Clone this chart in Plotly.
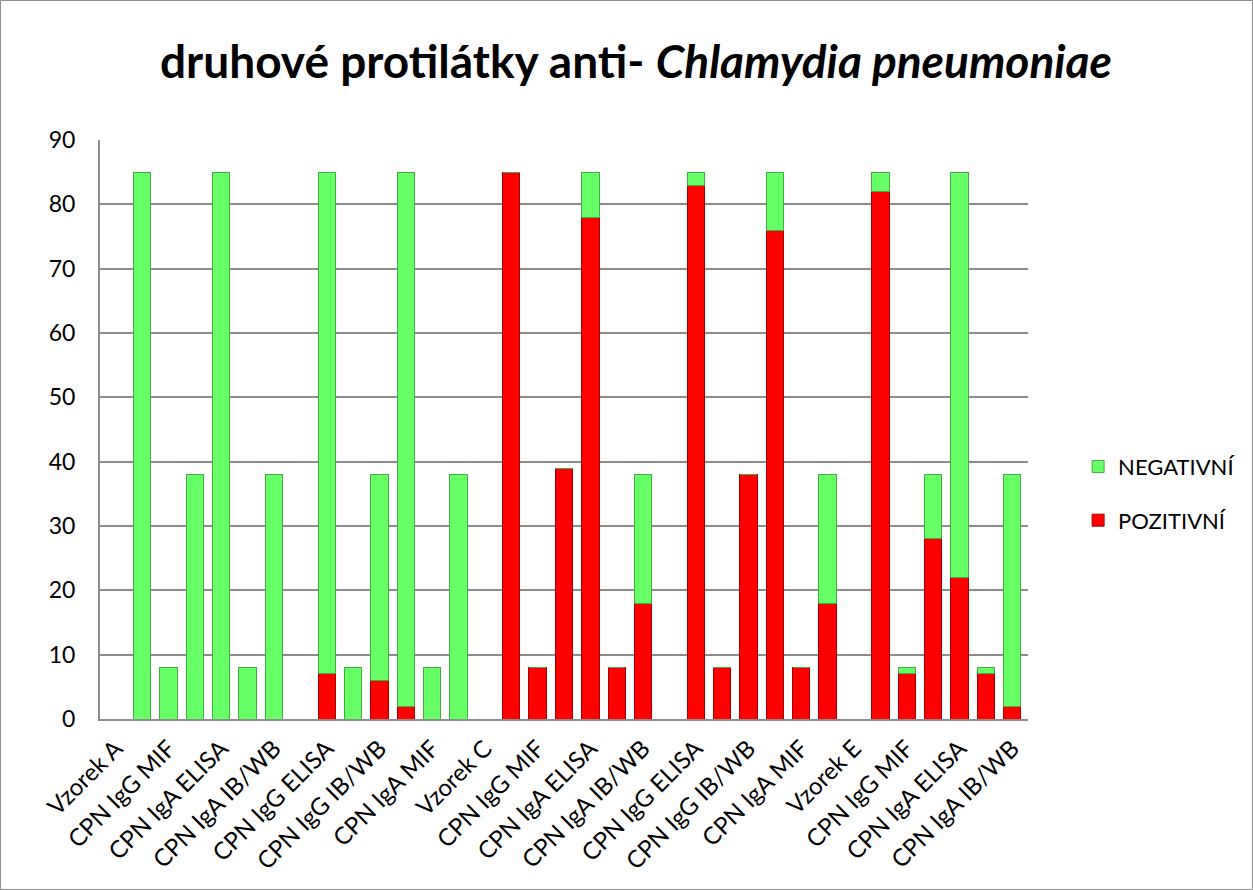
import plotly.graph_objects as go

groups = ["Vzorek A", "Vzorek B", "Vzorek C", "Vzorek D", "Vzorek E"]
tests = ["CPN IgG ELISA", "CPN IgG MIF", "CPN IgG IB/WB",
         "CPN IgA ELISA", "CPN IgA MIF", "CPN IgA IB/WB"]

# values per group, in the order of `tests`
pozitivni = {
    "Vzorek A": [0, 0, 0, 0, 0, 0],
    "Vzorek B": [7, 0, 6, 2, 0, 0],
    "Vzorek C": [85, 8, 39, 78, 8, 18],
    "Vzorek D": [83, 8, 38, 76, 8, 18],
    "Vzorek E": [82, 7, 28, 22, 7, 2],
}
negativni = {
    "Vzorek A": [85, 8, 38, 85, 8, 38],
    "Vzorek B": [78, 8, 32, 83, 8, 38],
    "Vzorek C": [0, 0, 0, 7, 0, 20],
    "Vzorek D": [2, 0, 0, 9, 0, 20],
    "Vzorek E": [3, 1, 10, 63, 1, 36],
}

categories = []
pos_vals = []
neg_vals = []
for g in groups:
    categories.append(g)
    pos_vals.append(None)
    neg_vals.append(None)
    for i, t in enumerate(tests):
        categories.append(t)
        pos_vals.append(pozitivni[g][i])
        neg_vals.append(negativni[g][i])

x = list(range(len(categories)))
tickvals = x[::2]
ticktext = categories[::2]

font = "Lato, 'Open Sans', sans-serif"

fig = go.Figure()
fig.add_trace(go.Bar(x=x, y=pos_vals, name="POZITIVNÍ", legendgroup="p", legendrank=2,
                     marker=dict(color="#ff0000", line=dict(color="#a00000", width=1)),
                     width=0.66))
fig.add_trace(go.Bar(x=x, y=neg_vals, name="NEGATIVNÍ", legendgroup="n", legendrank=1,
                     marker=dict(color="#66ff66", line=dict(color="#44aa44", width=1)),
                     width=0.66))

fig.update_layout(
    barmode="stack",
    width=1253, height=890,
    paper_bgcolor="white", plot_bgcolor="white",
    margin=dict(l=100, r=225, t=140, b=171),
    title=dict(text="<b>druhové protilátky anti- <i>Chlamydia pneumoniae</i></b>",
               x=(636 - 100) / 928, xref="paper", xanchor="center",
               y=1 - 62 / 890, yanchor="middle",
               font=dict(family=font, size=46, color="black")),
    font=dict(family=font, color="black"),
    legend=dict(x=1.054, y=0.389, xanchor="left", yanchor="middle",
                traceorder="grouped", tracegroupgap=22,
                font=dict(size=22, family=font), itemwidth=30),
    showlegend=True,
    xaxis=dict(range=[-0.6, 34.6], tickmode="array", tickvals=tickvals,
               ticktext=ticktext, tickangle=-45, showgrid=False,
               showline=True, linecolor="#8c8c8c", linewidth=2,
               tickfont=dict(size=24, family=font), ticks="",
               ticklabelstandoff=4),
    yaxis=dict(range=[0, 90], dtick=10, showgrid=True, gridcolor="#8c8c8c",
               gridwidth=2, showline=True, linecolor="#8c8c8c", linewidth=2,
               tickfont=dict(size=23, family=font), ticks="", zeroline=False,
               ticklabelstandoff=18),
    shapes=[dict(type="rect", xref="paper", yref="paper",
                 x0=-0.1072, x1=1.2419, y0=-0.2945, y1=1.2409,
                 line=dict(color="#8c8c8c", width=1), layer="below")],
)

fig.write_html("out.html", config={"displayModeBar": False},
               post_script="document.body.style.margin='0';")
